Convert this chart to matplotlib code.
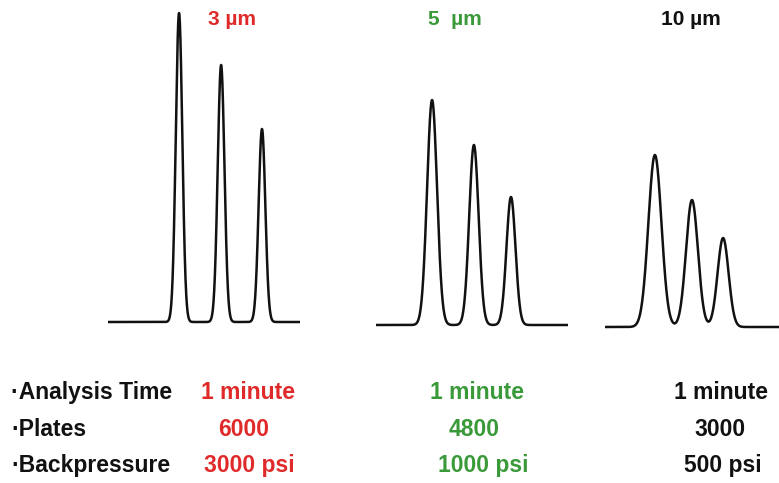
import numpy as np
import matplotlib
matplotlib.use("Agg")
import matplotlib.pyplot as plt

# ---------------- data ----------------
particle_sizes = ["3 \u00b5m", "5  \u00b5m", "10 \u00b5m"]
# peak retention times (min), heights (signal units), widths (sigma, min)
peak_times = [[0.370, 0.589, 0.802],
              [0.292, 0.510, 0.703],
              [0.260, 0.453, 0.615]]
peak_heights = [[309, 257, 193],
                [225, 180, 128],
                [172, 127, 89]]
peak_sigmas = [[0.0170, 0.0175, 0.0175],
               [0.0260, 0.0245, 0.0235],
               [0.0340, 0.0310, 0.0287]]
row_labels = ["\u00b7Analysis Time", "\u00b7Plates", "\u00b7Backpressure"]
analysis_time = ["1 minute", "1 minute", "1 minute"]
plates = ["6000", "4800", "3000"]
backpressure = ["3000 psi", "1000 psi", "500 psi"]

# ---------------- styling / layout ----------------
W, H = 779, 483
colors = ["#e02a2a", "#3a9a3a", "#111111"]
panel_left_px = [108, 376, 605]
panel_width_px = 192
baseline_px = [322, 325, 327]
title_x_px = [232, 455, 691]
title_y_px = 25
row_y_px = [399, 436, 472]
value_x_px = [[248, 244, 249], [477, 474, 483], [721, 720, 723]]
FONT = "Liberation Sans"

fig = plt.figure(figsize=(W / 100, H / 100), dpi=100)
fig.patch.set_facecolor("white")

t = np.linspace(0, 1, 1500)
for i in range(3):
    ax = fig.add_axes([panel_left_px[i] / W, 0, panel_width_px / W, 1])
    signal = np.zeros_like(t)
    for tr, h, s in zip(peak_times[i], peak_heights[i], peak_sigmas[i]):
        signal += h * np.exp(-0.5 * ((t - tr) / s) ** 2)
    ax.plot(t, signal, color="#111111", lw=1.8, solid_joinstyle="round")
    ax.set_xlim(0, 1)
    ax.set_ylim(-(H - baseline_px[i]), baseline_px[i])
    ax.axis("off")
    fig.text(title_x_px[i] / W, 1 - title_y_px / H, particle_sizes[i],
             ha="center", va="baseline", color=colors[i],
             fontsize=15, fontweight="bold", family=FONT)

for r, lab in enumerate(row_labels):
    fig.text(11 / W, 1 - row_y_px[r] / H, lab, ha="left", va="baseline",
             color="#111111", fontsize=16.5, fontweight="bold", family=FONT)

rows = [analysis_time, plates, backpressure]
for c in range(3):
    for r in range(3):
        fig.text(value_x_px[c][r] / W, 1 - row_y_px[r] / H, rows[r][c],
                 ha="center", va="baseline", color=colors[c],
                 fontsize=16.5, fontweight="bold", family=FONT)

fig.savefig("out.png", dpi=100, facecolor="white")
